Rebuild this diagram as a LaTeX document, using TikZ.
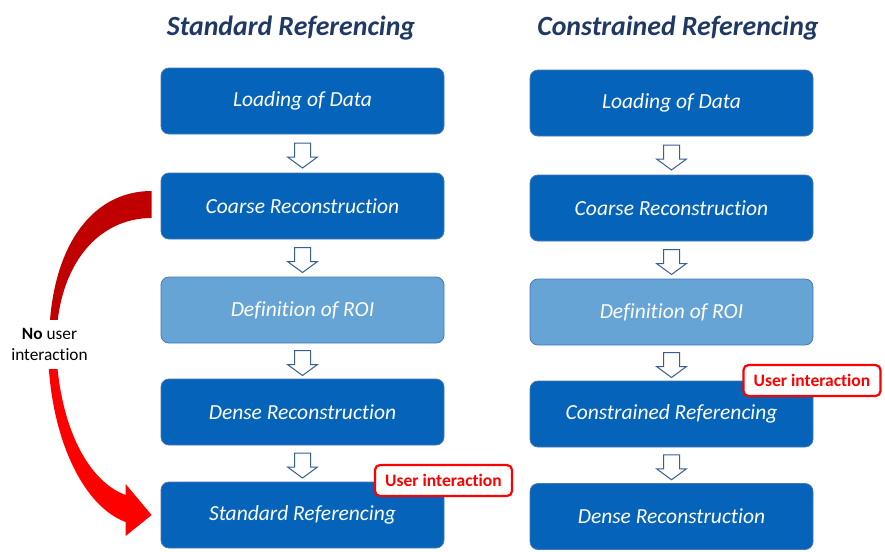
\documentclass[tikz,border=0pt]{standalone}
\usepackage{fontspec}
\setmainfont{Carlito}[Ligatures=NoCommon]
\usetikzlibrary{calc}
\definecolor{boxblue}{RGB}{5,99,186}
\definecolor{boxlight}{RGB}{103,164,214}
\definecolor{boxedge}{RGB}{70,120,180}
\definecolor{titleblue}{RGB}{31,56,100}
\definecolor{arrowedge}{RGB}{55,95,145}
\definecolor{darkred}{RGB}{192,0,0}
\definecolor{brightred}{RGB}{255,0,0}
\begin{document}
\begin{tikzpicture}[x=1pt,y=-1pt,
 stepbox/.style={draw=boxedge, line width=0.8pt, fill=boxblue, rounded corners=8pt,
   minimum width=283pt, minimum height=66pt, text=white,
   font=\fontsize{21.5}{24}\selectfont\itshape, inner sep=0pt},
 lightbox/.style={stepbox, fill=boxlight},
 titletext/.style={text=titleblue, font=\fontsize{27.8}{32}\selectfont\bfseries\itshape},
 userlabel/.style={draw=brightred, line width=2.2pt, fill=white, rounded corners=5pt,
   text=brightred, font=\fontsize{17.5}{19}\selectfont\bfseries,
   minimum width=137pt, minimum height=31pt, inner sep=0pt},
 notelabel/.style={fill=white, align=center, font=\fontsize{17.3}{21}\selectfont,
   minimum width=91pt, minimum height=49pt, inner sep=0pt},
 blockarrow/.pic={\draw[arrowedge, line width=1pt, fill=white, line join=miter]
   (-8,-12.5) -- (8,-12.5) -- (8,1.5) -- (15,1.5) -- (0,12.5) -- (-15,1.5) -- (-8,1.5) -- cycle;}
]
\useasboundingbox (0,0) rectangle (885,551);

% titles
\node[titletext] (t1) at (291,28) {Standard Referencing};
\node[titletext] (t2) at (678,28) {Constrained Referencing};

% left column
\node[stepbox]  (a1) at (302.5,101) {Loading of Data};
\node[stepbox]  (a2) at (302.5,206) {Coarse Reconstruction};
\node[lightbox] (a3) at (302.5,310) {Definition of ROI};
\node[stepbox]  (a4) at (302.5,412) {Dense Reconstruction};
\node[stepbox]  (a5) at (302.5,515) {Standard Referencing};

% right column
\node[stepbox]  (b1) at (671.5,103) {Loading of Data};
\node[stepbox]  (b2) at (671.5,208) {Coarse Reconstruction};
\node[lightbox] (b3) at (671.5,312) {Definition of ROI};
\node[stepbox]  (b4) at (671.5,414) {Constrained Referencing};
\node[stepbox]  (b5) at (671.5,516.5) {Dense Reconstruction};

% block arrows
\foreach \u/\v in {a1/a2,a2/a3,a3/a4,a4/a5,b1/b2,b2/b3,b3/b4,b4/b5}
  \pic at ($(\u.south)!0.5!(\v.north)+(0,2)$) {blockarrow};

% user interaction labels
\node[userlabel] (u1) at (443.5,480.5) {User interaction};
\node[userlabel] (u2) at (812,380.5) {User interaction};

% red curved arrow from a2 to a5
\coordinate (rs1) at ($(a2.west)+(-9,-15)$);
\coordinate (rs2) at ($(a2.west)+(-9,12)$);
\coordinate (rt)  at ($(a5.west)+(-9,0)$);
\fill[darkred] (rs1) .. controls (90,191) and (49,250) .. (49,345)
  -- (56,345) .. controls (57,262) and (100,218) .. (rs2) -- cycle;
\fill[brightred] (48,345) .. controls (48,430) and (80,505) .. ($(rt)+(-26,7)$)
  -- ($(rt)+(-26,21)$) -- (rt) -- ($(rt)+(-26,-31)$) -- ($(rt)+(-26,-20)$)
  .. controls (85,480) and (58,420) .. (56,345) -- cycle;

\node[notelabel] (nl) at (49.5,344.5) {\textbf{No} user\\interaction};
\end{tikzpicture}
\end{document}
